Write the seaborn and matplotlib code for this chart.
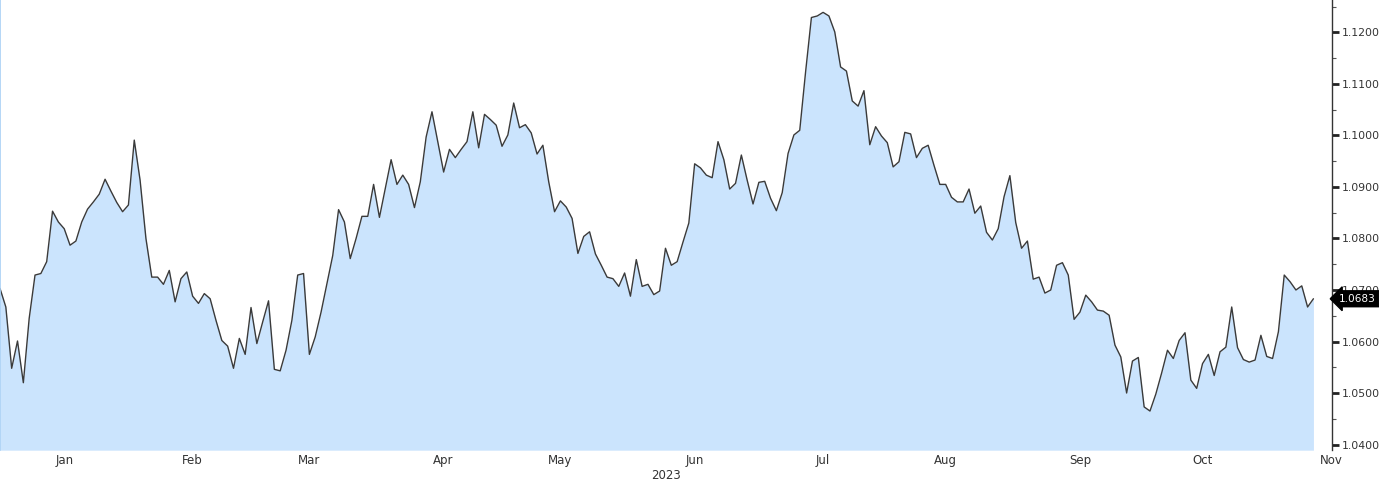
import pandas as pd
import matplotlib.pyplot as plt
import seaborn as sns
import numpy as np

# daily closes, one per business day starting 2022-12-30
start_date = '2022-12-30'
closes = [
    1.0703,
    1.0667, 1.0548, 1.0601, 1.0520, 1.0645, 1.0729, 1.0732, 1.0755, 1.0853, 1.0832,
    1.0819, 1.0787, 1.0795, 1.0832, 1.0857, 1.0871, 1.0886, 1.0915, 1.0892, 1.0870,
    1.0852, 1.0865,
    1.0991, 1.0913, 1.0800, 1.0725, 1.0725, 1.0711, 1.0738, 1.0677, 1.0722, 1.0735,
    1.0688, 1.0674, 1.0693, 1.0683, 1.0641, 1.0602, 1.0591, 1.0548, 1.0606, 1.0575,
    1.0666, 1.0596, 1.0638, 1.0679, 1.0546, 1.0543, 1.0583, 1.0641, 1.0729, 1.0732,
    1.0575, 1.0609, 1.0657, 1.0712, 1.0767, 1.0856, 1.0832, 1.0761, 1.0800, 1.0843,
    1.0843, 1.0905, 1.0841, 1.0897, 1.0953, 1.0905, 1.0923, 1.0905, 1.0860, 1.0910,
    1.0997, 1.1046, 1.0988, 1.0929, 1.0973, 1.0957, 1.0973, 1.0988, 1.1046, 1.0976,
    1.1041, 1.1031, 1.1020, 1.0979, 1.1001, 1.1063, 1.1015, 1.1021, 1.1005, 1.0964,
    1.0981, 1.0910, 1.0852, 1.0873, 1.0861, 1.0839, 1.0771, 1.0804, 1.0813, 1.0770,
    1.0748, 1.0725, 1.0722, 1.0707, 1.0733, 1.0688, 1.0759, 1.0707, 1.0711, 1.0691,
    1.0698, 1.0781, 1.0748, 1.0755, 1.0793, 1.0830, 1.0945, 1.0937, 1.0923, 1.0918,
    1.0988, 1.0953, 1.0896, 1.0907, 1.0962, 1.0913, 1.0867, 1.0909, 1.0911, 1.0878,
    1.0854, 1.0889, 1.0965, 1.1001, 1.1010, 1.1123, 1.1229, 1.1232, 1.1239, 1.1232,
    1.1201, 1.1133, 1.1125, 1.1067, 1.1057, 1.1087, 1.0982, 1.1017, 1.0999, 1.0986,
    1.0939, 1.0949, 1.1006, 1.1003, 1.0957, 1.0975, 1.0981, 1.0942, 1.0905, 1.0905,
    1.0880, 1.0871, 1.0871, 1.0896, 1.0849, 1.0863, 1.0812, 1.0797, 1.0819, 1.0881,
    1.0922, 1.0831, 1.0781, 1.0795, 1.0721, 1.0725, 1.0694, 1.0700, 1.0748, 1.0753,
    1.0729, 1.0643, 1.0657, 1.0690, 1.0677, 1.0661, 1.0659, 1.0651, 1.0593, 1.0570,
    1.0500, 1.0562, 1.0569, 1.0473, 1.0465, 1.0498, 1.0539, 1.0583, 1.0567, 1.0602,
    1.0617, 1.0525, 1.0509, 1.0557, 1.0575, 1.0534, 1.0580, 1.0589, 1.0667, 1.0588,
    1.0565, 1.0560, 1.0564, 1.0612, 1.0571, 1.0567, 1.0619, 1.0729, 1.0716, 1.0700,
    1.0708, 1.0667, 1.0683,
]
month_names = ['Jan', 'Feb', 'Mar', 'Apr', 'May', 'Jun', 'Jul', 'Aug', 'Sep', 'Oct', 'Nov']
year_label = '2023'
last_label = '1.0683'
y_ticks = [1.04, 1.05, 1.06, 1.07, 1.08, 1.09, 1.10, 1.11, 1.12]

dates = pd.bdate_range(start_date, periods=len(closes))
df = pd.DataFrame({'date': dates, 'pos': np.arange(len(closes)), 'close': closes})

# month labels sit around the middle of each month
all_days = pd.bdate_range(start_date, '2023-11-30')
month_pos = [all_days.searchsorted(pd.Timestamp(2023, m, 15)) for m in range(1, 12)]

sns.set_style('white')
plt.rcParams['font.family'] = ['DejaVu Sans']

fig = plt.figure(figsize=(13.79, 4.82), dpi=100)
ax = fig.add_axes([0, 0.066, 0.966, 0.934])

y_bottom, y_top = 1.0389, 1.1263
ax.fill_between(df['pos'], df['close'], y_bottom, color='#cbe4fd', lw=0)
sns.lineplot(data=df, x='pos', y='close', ax=ax, color='#3a3a3a', lw=1)

ax.set_xlim(0, 228.2)
ax.set_ylim(y_bottom, y_top)

ax.set_xticks(month_pos)
ax.set_xticklabels(month_names)
ax.set_xlabel(year_label, fontsize=8.5, color='#333333', labelpad=1.5)
ax.set_ylabel('')

ax.yaxis.tick_right()
ax.set_yticks(y_ticks)
ax.set_yticklabels([f'{v:.4f}' for v in y_ticks])
ax.set_yticks(np.arange(1.045, 1.126, 0.01), minor=True)

ax.tick_params(axis='x', length=0, labelsize=8.5, labelcolor='#333333', pad=3)
ax.tick_params(axis='y', which='major', length=5, width=2, color='#222222',
               labelsize=7.8, labelcolor='#333333', pad=2)
ax.tick_params(axis='y', which='minor', length=3, width=0.8, color='#555555', right=True, left=False)

for s in ['top', 'bottom']:
    ax.spines[s].set_visible(False)
ax.spines['left'].set_color('#a8d0f5')
ax.spines['left'].set_linewidth(1.2)
ax.spines['right'].set_color('#333333')
ax.spines['right'].set_linewidth(1)

ax.annotate(last_label, xy=(1, closes[-1]), xycoords=('axes fraction', 'data'),
            xytext=(5, 0), textcoords='offset points', ha='left', va='center',
            color='white', fontsize=7.6, zorder=10, annotation_clip=False,
            bbox=dict(boxstyle='larrow,pad=0.28', fc='black', ec='black'))

fig.savefig('out.png', dpi=100)
